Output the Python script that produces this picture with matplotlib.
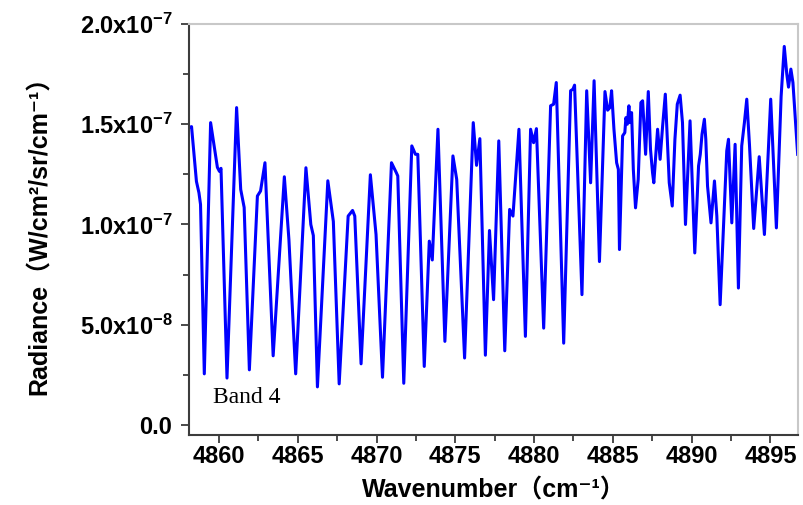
import numpy as np
import matplotlib
matplotlib.use("Agg")
import matplotlib.pyplot as plt
from matplotlib.ticker import FuncFormatter, MultipleLocator

# wavenumber (cm-1) and radiance (in units of 1e-7 W/cm2/sr/cm-1)
wavenumber = [
    4858.10, 4858.26, 4858.57, 4858.73, 4858.83, 4859.07, 4859.47, 4859.90, 4860.03, 4860.13,
    4860.51, 4861.12, 4861.38, 4861.60, 4861.93, 4862.44, 4862.64, 4862.92, 4863.44, 4864.15,
    4864.44, 4864.87, 4865.52, 4865.83, 4865.99, 4866.25, 4866.91, 4867.26, 4867.63, 4868.20,
    4868.48, 4868.62, 4869.02, 4869.61, 4869.97, 4870.38, 4870.95, 4871.26, 4871.35, 4871.73,
    4872.24, 4872.47, 4872.62, 4873.03, 4873.35, 4873.54, 4873.90, 4874.34, 4874.85, 4875.09,
    4875.59, 4876.14, 4876.35, 4876.56, 4876.91, 4877.17, 4877.43, 4877.76, 4878.14, 4878.45,
    4878.66, 4879.04, 4879.45, 4879.78, 4879.97, 4880.15, 4880.61, 4881.05, 4881.24, 4881.41,
    4881.88, 4882.32, 4882.47, 4882.57, 4883.04, 4883.34, 4883.59, 4883.81, 4884.15, 4884.50,
    4884.67, 4884.81, 4884.92, 4885.07, 4885.24, 4885.35, 4885.42, 4885.62, 4885.76, 4885.83,
    4885.92, 4886.02, 4886.08, 4886.19, 4886.30, 4886.44, 4886.61, 4886.78, 4886.89, 4887.08,
    4887.25, 4887.39, 4887.52, 4887.60, 4887.84, 4888.00, 4888.16, 4888.33, 4888.58, 4888.77,
    4888.94, 4889.09, 4889.27, 4889.42, 4889.61, 4889.90, 4890.20, 4890.44, 4890.55, 4890.66,
    4890.81, 4890.90, 4891.01, 4891.23, 4891.45, 4891.60, 4891.81, 4892.23, 4892.34, 4892.55,
    4892.76, 4892.97, 4893.18, 4893.35, 4893.50, 4893.67, 4893.94, 4894.29, 4894.62, 4895.02,
    4895.38, 4895.68, 4895.88, 4896.04, 4896.15, 4896.30, 4896.43, 4896.57, 4896.73,
]
radiance = [
    1.483, 1.488, 1.215, 1.158, 1.100, 0.255, 1.508, 1.285, 1.265, 1.280,
    0.234, 1.583, 1.175, 1.085, 0.275, 1.142, 1.167, 1.308, 0.345, 1.238,
    0.925, 0.255, 1.283, 1.000, 0.945, 0.190, 1.218, 1.015, 0.205, 1.042,
    1.070, 1.042, 0.305, 1.248, 0.950, 0.238, 1.308, 1.258, 1.242, 0.208,
    1.392, 1.350, 1.350, 0.292, 0.917, 0.823, 1.475, 0.417, 1.342, 1.225,
    0.334, 1.508, 1.295, 1.428, 0.348, 0.970, 0.625, 1.417, 0.370, 1.075,
    1.042, 1.475, 0.442, 1.475, 1.408, 1.478, 0.483, 1.592, 1.600, 1.708,
    0.408, 1.667, 1.675, 1.695, 0.650, 1.667, 1.208, 1.717, 0.815, 1.663,
    1.570, 1.583, 1.667, 1.475, 1.308, 1.275, 0.875, 1.442, 1.458, 1.533,
    1.500, 1.592, 1.508, 1.558, 1.275, 1.083, 1.225, 1.608, 1.617, 1.350,
    1.663, 1.375, 1.258, 1.208, 1.475, 1.325, 1.492, 1.650, 1.208, 1.092,
    1.425, 1.600, 1.645, 1.508, 1.000, 1.517, 0.858, 1.292, 1.350, 1.450,
    1.525, 1.425, 1.192, 1.008, 1.217, 1.042, 0.600, 1.367, 1.425, 1.008,
    1.400, 0.683, 1.392, 1.508, 1.625, 1.400, 0.980, 1.338, 0.950, 1.625,
    0.983, 1.638, 1.888, 1.750, 1.685, 1.775, 1.708, 1.542, 1.350,
]

x = np.array(wavenumber)
y = np.array(radiance) * 1e-7

plt.rcParams['mathtext.fontset'] = 'custom'
plt.rcParams['mathtext.rm'] = 'Liberation Sans:bold'
plt.rcParams['mathtext.it'] = 'Liberation Sans:bold'
plt.rcParams['mathtext.bf'] = 'Liberation Sans:bold'

fig = plt.figure(figsize=(8.04, 5.05), dpi=100)
ax = fig.add_axes([0.2351, 0.1386, 0.7574, 0.8139])

ax.plot(x, y, color='#0000ff', lw=2.2, solid_joinstyle='round')

ax.set_xlim(4858.1, 4896.75)
ax.set_ylim(-0.05e-7, 2.0e-7)

ax.xaxis.set_major_locator(MultipleLocator(5))
ax.xaxis.set_minor_locator(MultipleLocator(2.5))
ax.yaxis.set_major_locator(MultipleLocator(0.5e-7))
ax.yaxis.set_minor_locator(MultipleLocator(0.25e-7))


def yfmt(v, pos):
    if abs(v) < 1e-12:
        return '0.0'
    exp = int(np.floor(np.log10(abs(v))))
    mant = v / 10 ** exp
    return '%.1fx10$^{%d}$' % (mant, exp)


ax.yaxis.set_major_formatter(FuncFormatter(yfmt))

for side in ['top', 'right']:
    ax.spines[side].set_color('#c8c8c8')
    ax.spines[side].set_linewidth(1.5)
for side in ['left', 'bottom']:
    ax.spines[side].set_color('#3c3c3c')
    ax.spines[side].set_linewidth(1.5)

ax.tick_params(which='both', direction='out', color='#3c3c3c', width=1.3,
               top=False, right=False)
ax.tick_params(which='major', length=6)
ax.tick_params(which='minor', length=4.5)
ax.tick_params(axis='y', pad=6)
ax.tick_params(axis='x', pad=1)

for lab in ax.get_xticklabels() + ax.get_yticklabels():
    lab.set_fontfamily('Liberation Sans')
    lab.set_fontweight('bold')
    lab.set_fontsize(17)

fam = ['Liberation Sans', 'DejaVu Sans', 'Noto Sans CJK SC']
ax.set_xlabel('Wavenumber（cm⁻¹）', family=fam, fontweight='bold', fontsize=18, labelpad=8)
ax.set_ylabel('Radiance（W/cm²/sr/cm⁻¹）', family=fam, fontweight='bold', fontsize=18, labelpad=20)

ax.text(4859.62, 0.108e-7, 'Band 4', family='Liberation Serif', fontsize=17,
        ha='left', va='baseline')

plt.savefig('out.png', dpi=100)
